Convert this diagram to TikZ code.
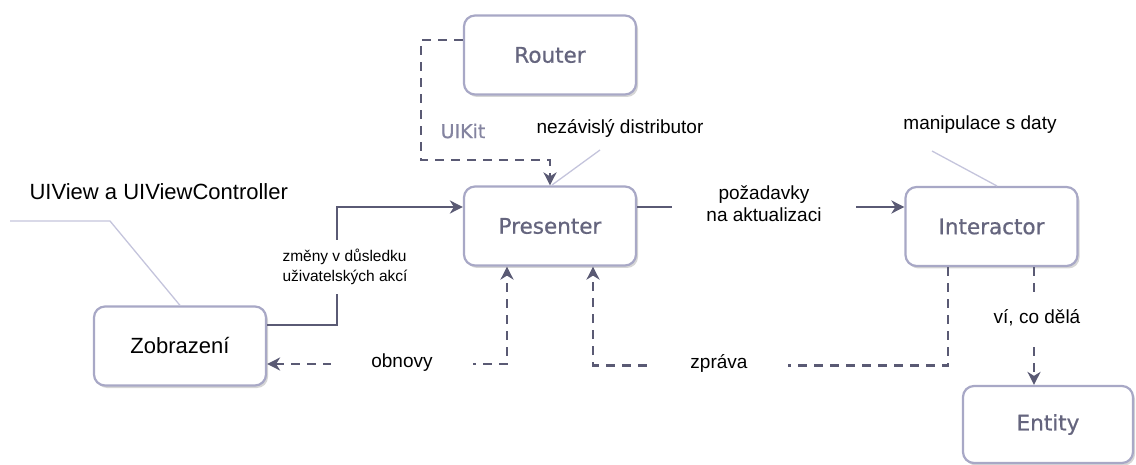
\documentclass[tikz,border=0pt]{standalone}
\usepackage{fontspec}
\setmainfont{Liberation Sans}
\newfontfamily\boxfont[FakeBold=0.7]{DejaVu Sans}
\usetikzlibrary{arrows.meta,shadows}
\definecolor{boxline}{HTML}{A8A8C6}
\definecolor{boxtext}{HTML}{65657E}
\definecolor{wire}{HTML}{5A5A74}
\definecolor{pointer}{HTML}{C4C4DC}
\definecolor{kittext}{HTML}{8484A0}
\tikzset{
  module/.style={draw=boxline, line width=2.2pt, rounded corners=11pt, fill=white,
    minimum width=#1, minimum height=79pt, inner sep=0pt,
    drop shadow={shadow xshift=2pt, shadow yshift=-2.5pt, fill=black!16, opacity=1},
    font=\boxfont\fontsize{21.5}{24}\selectfont, text=boxtext},
  module/.default=172pt,
  flow/.style={draw=wire, line width=2.6pt, -{Stealth[length=13pt,width=13pt,inset=4pt]}},
  dflow/.style={flow, dash pattern=on 9pt off 7pt},
  tag/.style={font=\fontsize{19}{22}\selectfont, text=black},
  gaptag/.style={tag, fill=white, inner xsep=40pt, inner ysep=4pt},
  smalltag/.style={font=\fontsize{15.5}{19.5}\selectfont, text=black, align=left},
  callout/.style={draw=pointer, line width=1.3pt},
}
\begin{document}
\begin{tikzpicture}[x=1pt, y=-1pt]
\useasboundingbox (0,0) rectangle (1136,465);

% modules
\node[module] (router) at (550,55) {Router};
\node[module] (presenter) at (550,226) {Presenter};
\node[module] (interactor) at (991.5,226.5) {Interactor};
\node[module, font=\fontsize{22}{24}\selectfont, text=black] (view) at (180,346) {Zobrazení};
\node[module=170pt, minimum height=77pt] (entity) at (1048,424.5) {Entity};

% router to presenter, through UIKit
\coordinate (kit) at (421,160);
\draw[dflow] ([yshift=15pt]router.west) -| (kit) -| (presenter.north);
\node[font=\boxfont\fontsize{19}{22}\selectfont, text=kittext] (uikit) at (463,131) {UIKit};

% user actions from the view
\coordinate (bend) at (337,325);
\draw[flow] ([yshift=21pt]view.east) -- (bend) |- ([yshift=19pt]presenter.west);
\node[smalltag, fill=white, inner xsep=2pt, inner ysep=9pt] (changes) at (345,267)
  {změny v důsledku\\uživatelských akcí};

% update requests
\draw[flow] ([yshift=19pt]presenter.east) -- ([yshift=19.5pt]interactor.west);
\node[tag, fill=white, align=center, inner xsep=34pt, inner ysep=2pt] (requests) at (764,204)
  {požadavky\\na aktualizaci};

% refreshes back to the view
\draw[dflow, {Stealth[length=13pt,width=13pt,inset=4pt]}-{Stealth[length=13pt,width=13pt,inset=4pt]}]
  ([yshift=-18pt]view.east) -| ([xshift=-43pt]presenter.south);
\node[gaptag] (refresh) at (402,363) {obnovy};

% message from the interactor
\draw[dflow] ([xshift=-43.5pt]interactor.south) -- ++(0,98.5) -| ([xshift=43pt]presenter.south);
\node[gaptag] (message) at (719,363) {zpráva};

% interactor to entity
\draw[dflow] ([xshift=42.5pt]interactor.south) -- ([xshift=-14pt]entity.north);
\node[tag, fill=white, inner xsep=6pt, inner ysep=18pt] (knows) at (1037,318) {ví, co dělá};

% callouts
\node[tag] (distributor) at (620,128) {nezávislý distributor};
\coordinate (distA) at (600,150);
\coordinate (distB) at (552,185);
\draw[callout] (distA) -- (distB);

\node[tag] (manip) at (980,125) {manipulace s daty};
\coordinate (manA) at (932,151);
\coordinate (manB) at (997,186);
\draw[callout] (manA) -- (manB);

\node[tag, font=\fontsize{22}{26}\selectfont, anchor=west] (uiview) at (26,192) {UIView a UIViewController};
\coordinate (uvA) at (10,221);
\coordinate (uvB) at (110,221);
\draw[callout] (uvA) -- (uvB) -- (view.north);
\end{tikzpicture}
\end{document}
